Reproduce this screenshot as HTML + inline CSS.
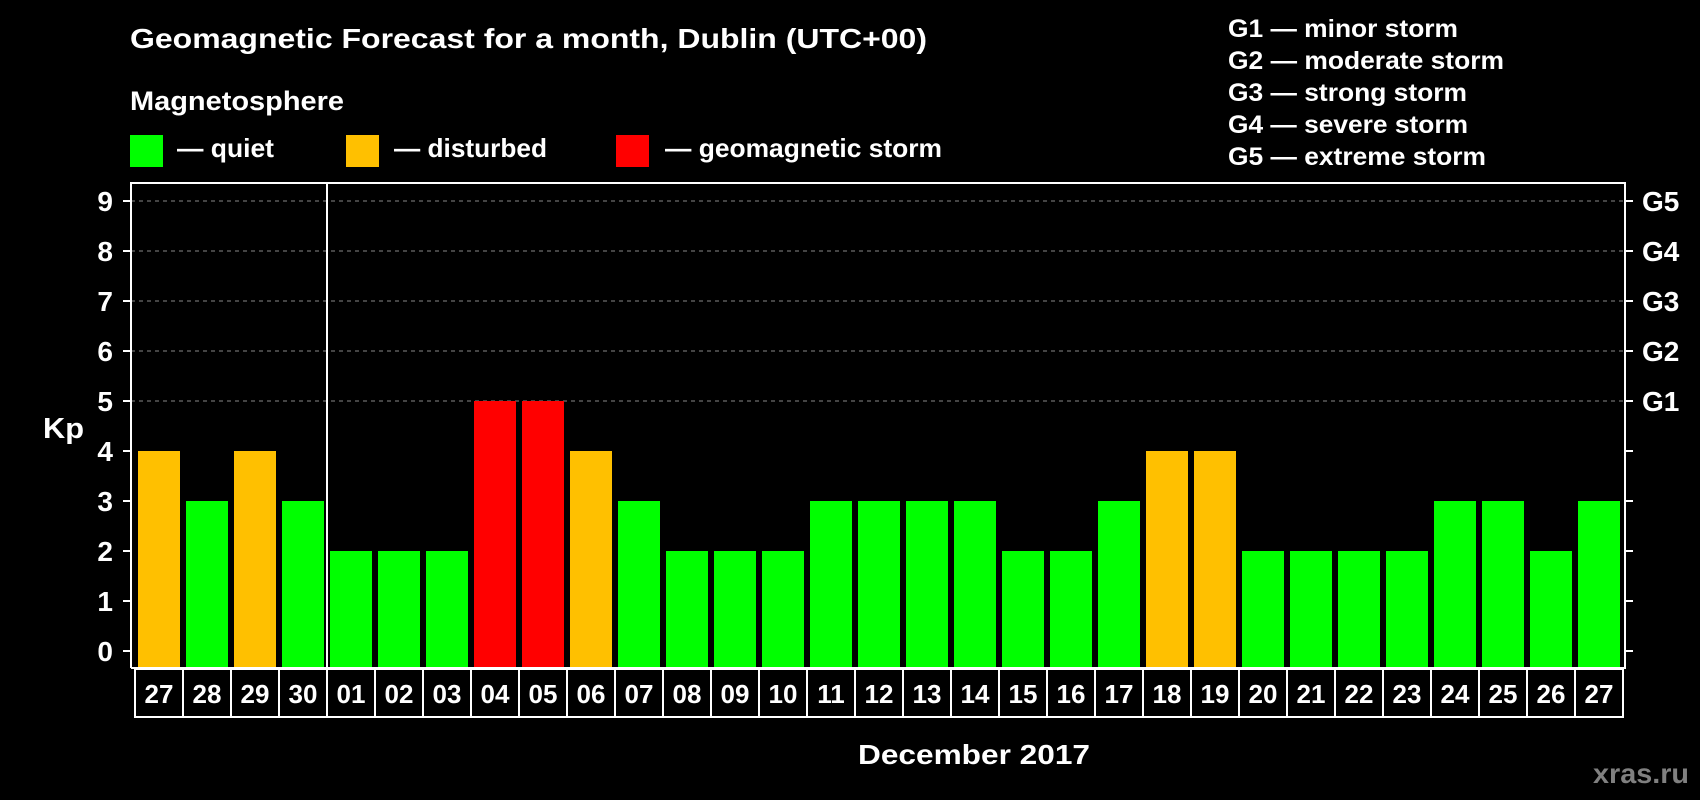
<!DOCTYPE html>
<html><head><meta charset="utf-8"><style>
html,body{margin:0;padding:0;background:#000;}
svg{display:block;font-family:"Liberation Sans",Arial,sans-serif;font-weight:bold;}
</style></head><body>
<svg id="chart" width="1700" height="800" viewBox="0 0 1700 800">
<rect width="1700" height="800" fill="#000"/>
<text x="130" y="48" fill="#fff" font-size="28" textLength="797" lengthAdjust="spacingAndGlyphs">Geomagnetic Forecast for a month, Dublin (UTC+00)</text>
<text x="130" y="110" fill="#fff" font-size="27" textLength="214" lengthAdjust="spacingAndGlyphs">Magnetosphere</text>
<g><rect x="130" y="135" width="33" height="32" fill="#00ff00"/><text x="177" y="157" fill="#fff" font-size="26" textLength="97" lengthAdjust="spacingAndGlyphs">— quiet</text></g>
<g><rect x="346" y="135" width="33" height="32" fill="#ffc000"/><text x="394" y="157" fill="#fff" font-size="26" textLength="153" lengthAdjust="spacingAndGlyphs">— disturbed</text></g>
<g><rect x="616" y="135" width="33" height="32" fill="#ff0000"/><text x="665" y="157" fill="#fff" font-size="26" textLength="277" lengthAdjust="spacingAndGlyphs">— geomagnetic storm</text></g>
<g fill="#fff" font-size="25">
<text x="1228" y="37" textLength="230" lengthAdjust="spacingAndGlyphs">G1 — minor storm</text>
<text x="1228" y="69" textLength="276" lengthAdjust="spacingAndGlyphs">G2 — moderate storm</text>
<text x="1228" y="101" textLength="239" lengthAdjust="spacingAndGlyphs">G3 — strong storm</text>
<text x="1228" y="133" textLength="240" lengthAdjust="spacingAndGlyphs">G4 — severe storm</text>
<text x="1228" y="165" textLength="258" lengthAdjust="spacingAndGlyphs">G5 — extreme storm</text>
</g>
<g id="grid"></g>
<g id="bars"></g>
<g id="axes"></g>
<text x="43" y="438" fill="#fff" font-size="29" textLength="41" lengthAdjust="spacingAndGlyphs">Kp</text>
<text x="858" y="764" fill="#fff" font-size="28" textLength="232" lengthAdjust="spacingAndGlyphs">December 2017</text>
<text x="1593" y="783" fill="#808080" font-size="28" textLength="96" lengthAdjust="spacingAndGlyphs">xras.ru</text>
</svg>
<script>
const days = ["27","28","29","30","01","02","03","04","05","06","07","08","09","10","11","12","13","14","15","16","17","18","19","20","21","22","23","24","25","26","27"];
const kpValues = [4,3,4,3,2,2,2,5,5,4,3,2,2,2,3,3,3,3,2,2,3,4,4,2,2,2,2,3,3,2,3];
const yTicks = [0,1,2,3,4,5,6,7,8,9];
const gLabels = ["G1","G2","G3","G4","G5"];
const gLevels = [5,6,7,8,9];

const NS="http://www.w3.org/2000/svg";
const X0=135, SLOT=48, PL=131, PR=1625, PT=183, PB=668;
const y=v=>651-v*50;
const x=i=>X0+i*SLOT;
function mk(tag,attrs,parent){const e=document.createElementNS(NS,tag);for(const k in attrs)e.setAttribute(k,attrs[k]);parent.appendChild(e);return e;}
const grid=document.getElementById('grid'),bars=document.getElementById('bars'),axes=document.getElementById('axes');
gLevels.forEach(v=>{
  const l=mk('line',{x1:PL,x2:PR,y1:y(v),y2:y(v),stroke:'#888','stroke-width':1,'stroke-dasharray':'4 4'},grid);
  
  
});
kpValues.forEach((v,i)=>{
  const c=v>=5?'#ff0000':(v>=4?'#ffc000':'#00ff00');
  const r=mk('rect',{x:x(i)+3,y:y(v),width:42,height:PB-y(v),fill:c},bars);
  
  
});
const frame=mk('path',{d:`M${PL},${PB} L${PL},${PT} L${PR},${PT} L${PR},${PB} L${PL},${PB}`,fill:'none',stroke:'#fff','stroke-width':2},axes);


const sep=mk('line',{x1:x(4),x2:x(4),y1:PT,y2:PB,stroke:'#fff','stroke-width':2},axes);


yTicks.forEach(v=>{
  mk('line',{x1:PL-8,x2:PL,y1:y(v),y2:y(v),stroke:'#fff','stroke-width':2},axes);
  mk('line',{x1:PR,x2:PR+8,y1:y(v),y2:y(v),stroke:'#fff','stroke-width':2},axes);
  const t=mk('text',{x:113,y:y(v)+10,fill:'#fff','font-size':28,'text-anchor':'end'},axes);
  t.textContent=v;
  
  
});
gLevels.forEach((v,i)=>{
  const t=mk('text',{x:1642,y:y(v)+10,fill:'#fff','font-size':28},axes);
  t.textContent=gLabels[i];
  
  
});
days.forEach((d,i)=>{
  const b=mk('rect',{x:x(i),y:669,width:SLOT,height:48,fill:'none',stroke:'#fff','stroke-width':2},axes);
  
  
  const t=mk('text',{x:x(i)+SLOT/2,y:703,fill:'#fff','font-size':26,'text-anchor':'middle'},axes);
  t.textContent=d;
  
  
});
</script>
</body></html>
